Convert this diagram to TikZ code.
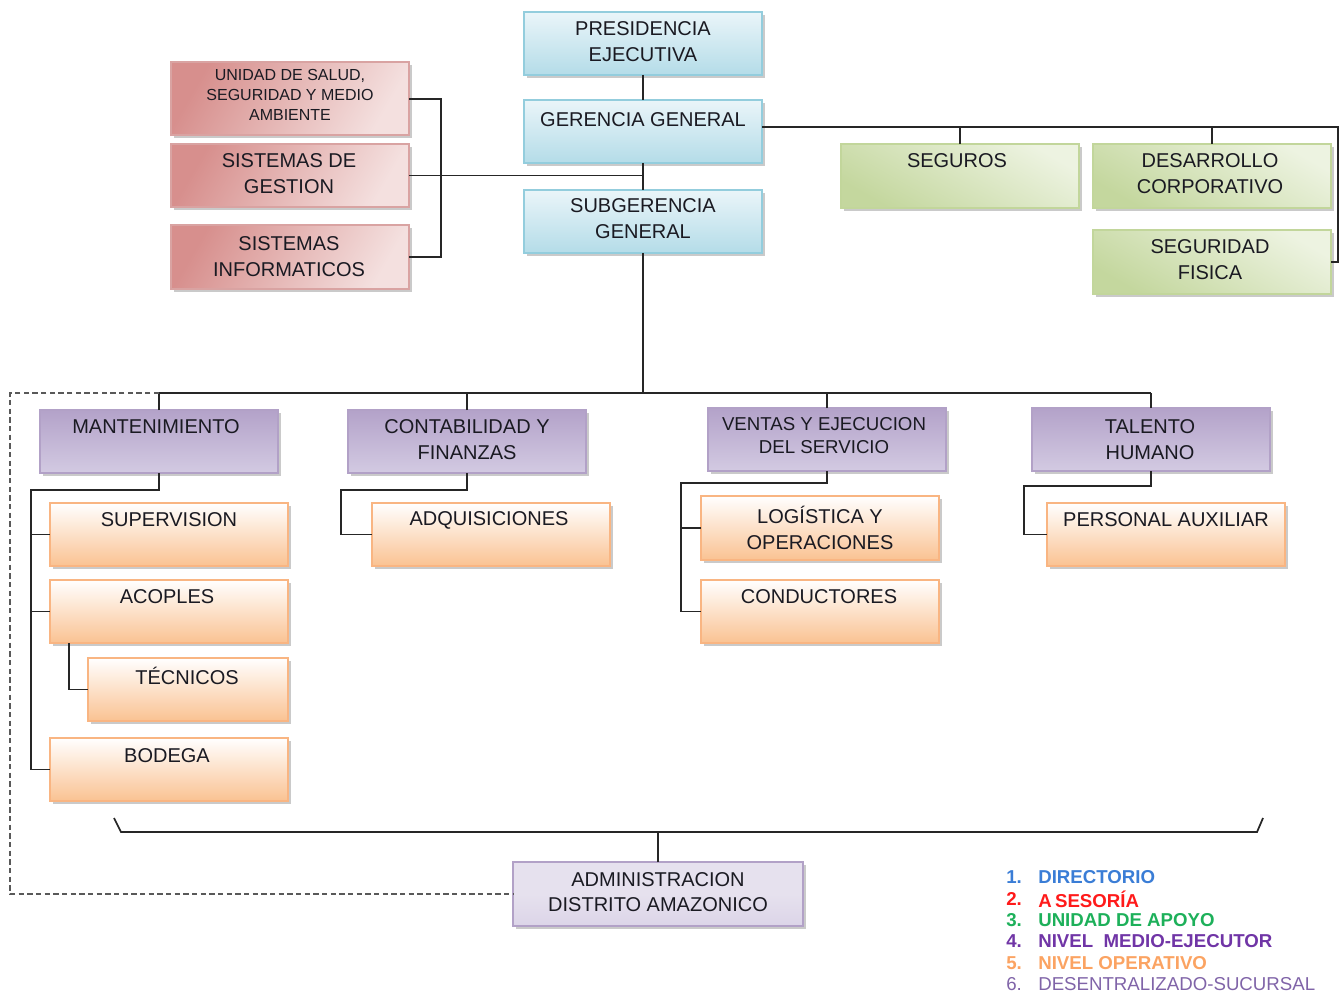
\documentclass[tikz,border=0pt]{standalone}
\usepackage{fontspec}
\setmainfont{Liberation Sans}
\usetikzlibrary{shadows}
\definecolor{bluetop}{HTML}{EAF5F9}
\definecolor{bluebot}{HTML}{B4DCE8}
\definecolor{blueedge}{HTML}{93CDDD}
\definecolor{redl}{HTML}{D78F8D}
\definecolor{redr}{HTML}{F4E0DF}
\definecolor{rededge}{HTML}{D9A3A2}
\definecolor{greend}{HTML}{C4D79E}
\definecolor{greenl}{HTML}{EDF3E1}
\definecolor{greenedge}{HTML}{C2D69B}
\definecolor{purt}{HTML}{B3A2C9}
\definecolor{purm}{HTML}{E6E1EE}
\definecolor{purb}{HTML}{D3CAE2}
\definecolor{puredge}{HTML}{B2A1C7}
\definecolor{orb}{HTML}{FAC292}
\definecolor{oredge}{HTML}{F9B582}
\definecolor{lg1}{HTML}{3A7DD6}
\definecolor{lg2}{HTML}{FF1A1A}
\definecolor{lg3}{HTML}{1DB05A}
\definecolor{lg4}{HTML}{7035A6}
\definecolor{lg5}{HTML}{FBA362}
\definecolor{lg6}{HTML}{8064A8}
\definecolor{txtc}{HTML}{1A1A22}
\tikzset{
  box/.style={rectangle, anchor=north west, inner sep=0pt, outer sep=0pt,
    minimum width=178.5pt, minimum height=47.25pt, line width=0.8pt,
    drop shadow={shadow xshift=2pt, shadow yshift=-2pt, opacity=0.35, fill=black!60}},
  bluebox/.style={box, draw=blueedge, top color=bluetop, bottom color=bluebot},
  redbox/.style={box, draw=rededge, left color=redl, right color=redr, shading angle=60},
  greenbox/.style={box, draw=greenedge, top color=greenl, bottom color=greend, shading angle=-30},
  purbox/.style={box, draw=puredge, top color=purt, middle color=purm, bottom color=purb},
  orbox/.style={box, draw=oredge, top color=white, bottom color=orb},
  txt/.style={font=\fontsize{15}{19.5}\selectfont, align=center, inner sep=0pt, text=txtc},
  conn/.style={line width=1.3pt, draw=black!85},
  dconn/.style={line width=1.3pt, draw=black!65, dash pattern=on 4pt off 2.5pt},
  lg/.style={anchor=west, inner sep=0pt, font=\fontsize{14}{16}\selectfont\bfseries}
}
\begin{document}
\begin{tikzpicture}[x=0.75pt,y=-0.75pt]
\useasboundingbox (0,0) rectangle (1344,994);
% ---- Direction (blue)
\node[bluebox] (pres) at (524,12) {};
\node[txt] (presT) at (643,42) {PRESIDENCIA\\EJECUTIVA};
\node[bluebox] (ger) at (524,100) {};
\node[txt] (gerT) at (643,120) {GERENCIA GENERAL};
\node[bluebox] (sub) at (524,190) {};
\node[txt] (subT) at (643,219) {SUBGERENCIA\\GENERAL};
% ---- Asesoria (red)
\node[redbox, minimum height=54.75pt] (uni) at (171,62) {};
\node[txt, font=\fontsize{12}{15}\selectfont] (uniT) at (290,95) {UNIDAD DE SALUD,\\SEGURIDAD Y MEDIO\\AMBIENTE};
\node[redbox] (gest) at (171,144) {};
\node[txt] (gestT) at (289,174) {SISTEMAS DE\\GESTION};
\node[redbox, minimum height=48pt] (inf) at (171,225) {};
\node[txt] (infT) at (289,257) {SISTEMAS\\INFORMATICOS};
% ---- Apoyo (green)
\node[greenbox, minimum height=48pt] (seg) at (841,144) {};
\node[txt] (segT) at (957,161) {SEGUROS};
\node[greenbox, minimum height=48pt] (des) at (1093,144) {};
\node[txt] (desT) at (1210,174) {DESARROLLO\\CORPORATIVO};
\node[greenbox, minimum height=48pt] (segf) at (1093,230) {};
\node[txt] (segfT) at (1210,260) {SEGURIDAD\\FISICA};
% ---- Medio (purple)
\node[purbox] (mant) at (40,410) {};
\node[txt] (mantT) at (156,427) {MANTENIMIENTO};
\node[purbox] (con) at (348,410) {};
\node[txt] (conT) at (467,440) {CONTABILIDAD Y\\FINANZAS};
\node[purbox] (ven) at (708,408) {};
\node[txt, font=\fontsize{14}{17.25}\selectfont] (venT) at (824,435.5) {VENTAS Y EJECUCION\\DEL SERVICIO};
\node[purbox] (tal) at (1032,408) {};
\node[txt] (talT) at (1150,440) {TALENTO\\HUMANO};
% ---- Operativo (orange)
\node[orbox] (sup) at (50,503) {};
\node[txt] (supT) at (169,520) {SUPERVISION};
\node[orbox] (aco) at (50,580) {};
\node[txt] (acoT) at (167,597) {ACOPLES};
\node[orbox, minimum width=150pt] (tec) at (88,658) {};
\node[txt] (tecT) at (187,676) {TÉCNICOS};
\node[orbox] (bod) at (50,738) {};
\node[txt] (bodT) at (167,756) {BODEGA};
\node[orbox] (adq) at (372,503) {};
\node[txt] (adqT) at (489,520) {ADQUISICIONES};
\node[orbox, minimum height=48pt] (log) at (701,496) {};
\node[txt] (logT) at (820,528) {LOGÍSTICA Y\\OPERACIONES};
\node[orbox] (cond) at (701,580) {};
\node[txt] (condT) at (819,597) {CONDUCTORES};
\node[orbox] (pa) at (1047,503) {};
\node[txt] (paT) at (1166,520) {PERSONAL AUXILIAR};
% ---- Sucursal
\node[purbox, top color=purm, bottom color=purb!80, middle color=purm, minimum width=217.5pt, minimum height=48pt] (adm) at (513,862) {};
\node[txt, font=\fontsize{15}{18.75}\selectfont] (admT) at (658,892.5) {ADMINISTRACION\\DISTRITO AMAZONICO};
% ---- Connectors
\coordinate (gbus) at (1338,127);
\coordinate (mbus) at (0,393);
\coordinate (rbr) at (441,99);
\draw[conn] (pres.south) -- (ger.north);
\draw[conn] (ger.south) -- (sub.north);
\draw[conn] (gest.east) -- (gest.east -| ger.south);
\draw[conn] (uni.east |- rbr) -- (rbr) |- (inf.east);
\draw[conn] (ger.east |- gbus) -- (gbus) |- (segf.east);
\draw[conn] (seg.north) -- (seg.north |- gbus);
\draw[conn] (des.north) -- (des.north |- gbus);
\draw[conn] (sub.south) -- (sub.south |- mbus);
\draw[conn] (mant.north |- mbus) -- (tal.north |- mbus);
\draw[conn] (mant.north) -- (mant.north |- mbus);
\draw[conn] (con.north) -- (con.north |- mbus);
\draw[conn] (ven.north) -- (ven.north |- mbus);
\draw[conn] (tal.north) -- (tal.north |- mbus);
\draw[dconn] (mant.north |- mbus) -- (10,393) |- (adm.west);
% Mantenimiento children
\coordinate (mv) at (31,490);
\draw[conn] (mant.south) |- (mv) |- (bod.west);
\draw[conn] (mv |- sup.west) -- (sup.west);
\draw[conn] (mv |- aco.west) -- (aco.west);
\draw[conn] ([xshift=14.25pt]aco.south west) |- (tec.west);
% Contabilidad
\coordinate (cv) at (341,490);
\draw[conn] (con.south) |- (cv) |- (adq.west);
% Ventas
\coordinate (vv) at (681,483);
\draw[conn] (ven.south) |- (vv) |- (cond.west);
\draw[conn] (vv |- log.west) -- (log.west);
% Talento
\coordinate (tv) at (1024,486);
\draw[conn] (tal.south) |- (tv) |- (pa.west);
% Bracket to Administracion
\coordinate (bl0) at (114,818);
\coordinate (bl) at (121,832);
\coordinate (br) at (1257,832);
\coordinate (br0) at (1263,818);
\draw[conn] (bl0) -- (bl) -- (br) -- (br0);
\draw[conn] (adm.north) -- (adm.north |- bl);
% ---- Legend
\node[lg, text=lg1] (l1n) at (1006,877) {1.};
\node[lg, text=lg1] (l1) at (1038,877) {DIRECTORIO};
\node[lg, text=lg2] (l2n) at (1006,899) {2.};
\node[lg, text=lg2] (l2) at (1038,899) {A\kern2.5pt SESORÍA};
\node[lg, text=lg3] (l3n) at (1006,920) {3.};
\node[lg, text=lg3] (l3) at (1038,920) {UNIDAD DE APOYO};
\node[lg, text=lg4] (l4n) at (1006,941) {4.};
\node[lg, text=lg4] (l4) at (1038,941) {NIVEL\ \ MEDIO-EJECUTOR};
\node[lg, text=lg5] (l5n) at (1006,963) {5.};
\node[lg, text=lg5] (l5) at (1038,963) {NIVEL OPERATIVO};
\node[lg, text=lg6, font=\fontsize{14}{16}\selectfont] (l6n) at (1006,984) {6.};
\node[lg, text=lg6, font=\fontsize{14}{16}\selectfont] (l6) at (1038,984) {DESENTRALIZADO-SUCURSAL};
\end{tikzpicture}
\end{document}
